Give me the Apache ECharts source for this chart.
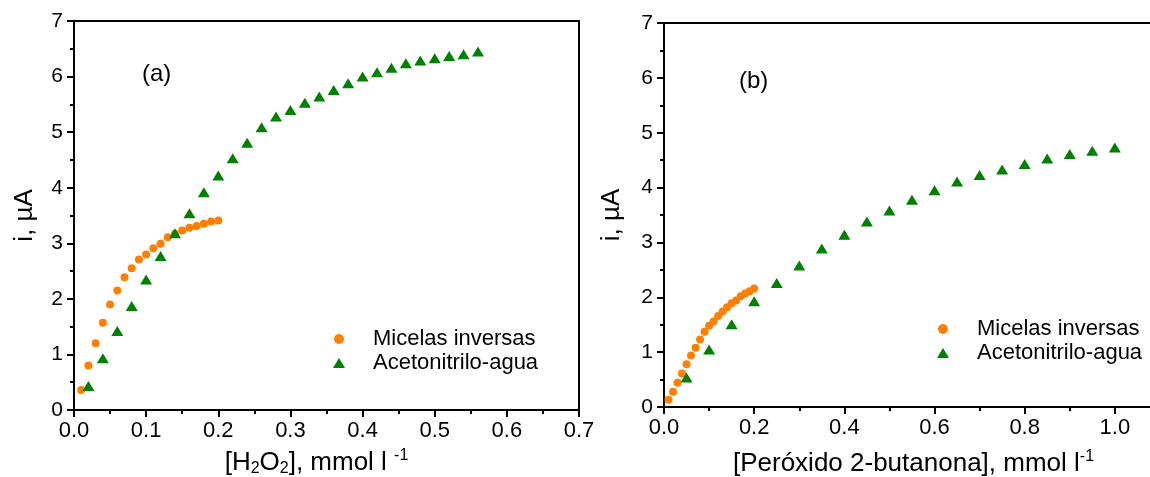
<!DOCTYPE html>
<html>
<head>
<meta charset="utf-8">
<script src="https://cdn.jsdelivr.net/npm/echarts@6/dist/echarts.min.js"></script>
<style>html,body{margin:0;padding:0;background:#fff}#c{width:1150px;height:477px}</style>
</head>
<body>
<div id="c"></div>
<script>
// ---- Panel (a): H2O2 ----
const micelasA_x = [0.01,0.02,0.03,0.04,0.05,0.06,0.07,0.08,0.09,0.10,0.11,0.12,0.13,0.14,0.15,0.16,0.17,0.18,0.19,0.20];
const micelasA_y = [0.36,0.80,1.20,1.57,1.90,2.15,2.39,2.55,2.71,2.80,2.91,2.99,3.11,3.17,3.23,3.28,3.31,3.35,3.39,3.41];
const acetoA_x = [0.02,0.04,0.06,0.08,0.10,0.12,0.14,0.16,0.18,0.20,0.22,0.24,0.26,0.28,0.30,0.32,0.34,0.36,0.38,0.40,0.42,0.44,0.46,0.48,0.50,0.52,0.54,0.56];
const acetoA_y = [0.43,0.93,1.42,1.87,2.35,2.77,3.18,3.54,3.92,4.22,4.53,4.81,5.09,5.28,5.40,5.53,5.64,5.76,5.88,6.00,6.08,6.16,6.24,6.29,6.33,6.37,6.40,6.45];
// ---- Panel (b): Peróxido 2-butanona ----
const micelasB_x = [0.01,0.02,0.03,0.04,0.05,0.06,0.07,0.08,0.09,0.10,0.11,0.12,0.13,0.14,0.15,0.16,0.17,0.18,0.19,0.20];
const micelasB_y = [0.13,0.28,0.44,0.61,0.78,0.94,1.08,1.23,1.37,1.48,1.56,1.66,1.74,1.82,1.89,1.94,2.02,2.07,2.11,2.16];
const acetoB_x = [0.05,0.10,0.15,0.20,0.25,0.30,0.35,0.40,0.45,0.50,0.55,0.60,0.65,0.70,0.75,0.80,0.85,0.90,0.95,1.00];
const acetoB_y = [0.54,1.05,1.51,1.93,2.26,2.58,2.89,3.14,3.38,3.58,3.78,3.95,4.11,4.23,4.33,4.43,4.53,4.61,4.67,4.73];

const seriesNames = ['Micelas inversas', 'Acetonitrilo-agua'];
const panelTags = ['(a)', '(b)'];
const yName = 'i, µA';

const FONT = '"Liberation Sans", Arial, sans-serif';
const ORANGE = '#FF8000';
const GREEN = '#008000';

function zip(xs, ys) { return xs.map((x, i) => [x, ys[i]]); }

function xAxisCfg(idx, max, interval, name, gap, shift) {
  return {
    gridIndex: idx, type: 'value', min: 0, max: max, interval: interval,
    name: name, nameLocation: 'middle', nameGap: gap,
    nameTextStyle: {
      color: '#000', fontFamily: FONT, fontSize: 26, padding: [0, shift, 0, 0],
      rich: {
        sub: { fontSize: 16, fontFamily: FONT, color: '#000', padding: [12, 0, 0, 0] },
        sup: { fontSize: 16, fontFamily: FONT, color: '#000', padding: [0, 0, 14, 0] }
      }
    },
    axisLine: { onZero: false, lineStyle: { color: '#000', width: 2 } },
    axisTick: { length: 7, lineStyle: { color: '#000', width: 2 } },
    minorTick: { show: true, splitNumber: 2, length: 4, lineStyle: { color: '#000', width: 2 } },
    axisLabel: { color: '#000', fontFamily: FONT, fontSize: 22, margin: 10, showMaxLabel: idx === 0,
      formatter: v => v.toFixed(1) },
    splitLine: { show: false }
  };
}
function yAxisCfg(idx, gap) {
  return {
    gridIndex: idx, type: 'value', min: 0, max: 7, interval: 1,
    name: yName, nameLocation: 'middle', nameGap: gap, nameRotate: 90,
    nameTextStyle: { color: '#000', fontFamily: FONT, fontSize: 26 },
    axisLine: { onZero: false, lineStyle: { color: '#000', width: 2 } },
    axisTick: { length: 7, lineStyle: { color: '#000', width: 2 } },
    minorTick: { show: true, splitNumber: 2, length: 4, lineStyle: { color: '#000', width: 2 } },
    axisLabel: { color: '#000', fontFamily: FONT, fontSize: 21, margin: 11 },
    splitLine: { show: false }
  };
}
function legendCfg(left, top) {
  return {
    orient: 'vertical', left: left, top: top, itemWidth: 12, itemHeight: 10, itemGap: 2, padding: 0,
    data: [{ name: seriesNames[0], icon: 'circle' }, { name: seriesNames[1], icon: 'triangle' }],
    textStyle: { fontFamily: FONT, fontSize: 22, lineHeight: 22, color: '#000', padding: [0, 0, 0, 23] }
  };
}

const chart = echarts.init(document.getElementById('c'), null, { renderer: 'canvas' });
chart.setOption({
  animation: false,
  backgroundColor: '#fff',
  title: [
    { text: panelTags[0], left: 142, top: 62, textStyle: { fontFamily: FONT, fontSize: 24, fontWeight: 'normal', color: '#000' }, padding: 0 },
    { text: panelTags[1], left: 739, top: 69, textStyle: { fontFamily: FONT, fontSize: 24, fontWeight: 'normal', color: '#000' }, padding: 0 }
  ],
  grid: [
    { left: 74, right: 571, top: 21, bottom: 67, outerBoundsMode: 'none', containLabel: false,
      show: true, borderColor: '#000', borderWidth: 2, backgroundColor: 'transparent' },
    { left: 664, right: -55, top: 23, bottom: 70, outerBoundsMode: 'none', containLabel: false,
      show: true, borderColor: '#000', borderWidth: 2, backgroundColor: 'transparent' }
  ],
  xAxis: [
    xAxisCfg(0, 0.7, 0.1, '[H{sub|2}O{sub|2}], mmol l {sup|-1}', 38, 20),
    xAxisCfg(1, 1.2, 0.2, '[Peróxido 2-butanona], mmol l{sup|-1}', 42, 42)
  ],
  yAxis: [ yAxisCfg(0, 36), yAxisCfg(1, 39) ],
  legend: [ legendCfg(333, 328), legendCfg(937, 318) ],
  series: [
    { name: seriesNames[0], type: 'scatter', xAxisIndex: 0, yAxisIndex: 0, symbol: 'circle', symbolSize: 8,
      itemStyle: { color: ORANGE, opacity: 1 }, data: zip(micelasA_x, micelasA_y) },
    { name: seriesNames[1], type: 'scatter', xAxisIndex: 0, yAxisIndex: 0, symbol: 'triangle', symbolSize: [12, 10],
      itemStyle: { color: GREEN, opacity: 1 }, data: zip(acetoA_x, acetoA_y) },
    { name: seriesNames[0], type: 'scatter', xAxisIndex: 1, yAxisIndex: 1, symbol: 'circle', symbolSize: 8,
      itemStyle: { color: ORANGE, opacity: 1 }, data: zip(micelasB_x, micelasB_y) },
    { name: seriesNames[1], type: 'scatter', xAxisIndex: 1, yAxisIndex: 1, symbol: 'triangle', symbolSize: [12, 10],
      itemStyle: { color: GREEN, opacity: 1 }, data: zip(acetoB_x, acetoB_y) }
  ]
});
</script>
</body>
</html>
